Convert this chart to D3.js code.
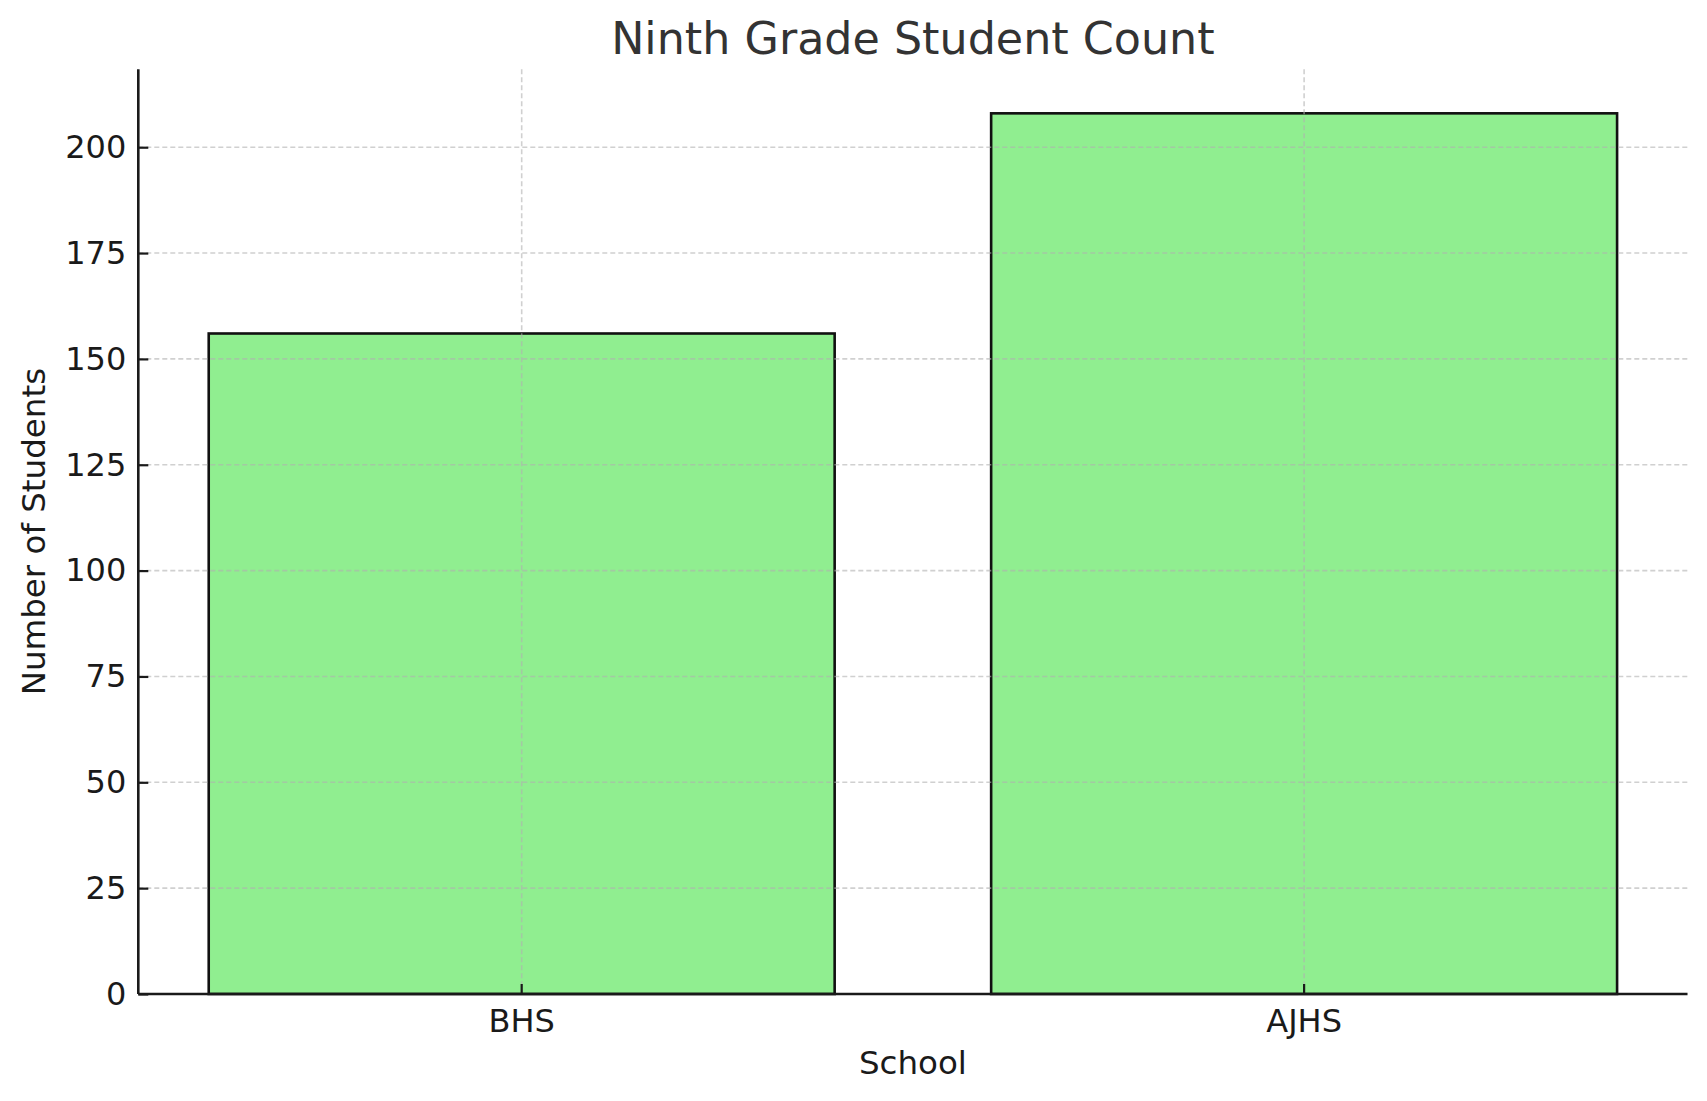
<!DOCTYPE html>
<html>
<head>
<meta charset="utf-8">
<script src="https://cdn.jsdelivr.net/npm/d3@7"></script>
<style>
  html, body { margin: 0; padding: 0; background: #fff; }
  svg { display: block; font-family: "DejaVu Sans", sans-serif; }
</style>
</head>
<body>
<div id="chart"></div>
<script>
const schools = ["BHS", "AJHS"];
const students = [156, 208];
const yTicks = [0, 25, 50, 75, 100, 125, 150, 175, 200];

const width = 1707;
const height = 1101;
const margin = { top: 69.3, right: 19.5, bottom: 107, left: 138.3 };

const svg = d3
  .select("#chart")
  .append("svg")
  .attr("width", width)
  .attr("height", height);

const x = d3
  .scaleBand()
  .domain(schools)
  .range([margin.left, width - margin.right])
  .paddingInner(0.2)
  .paddingOuter(0.09);

const y = d3
  .scaleLinear()
  .domain([0, d3.max(students) * 1.05])
  .range([height - margin.bottom, margin.top]);

// bars
svg
  .append("g")
  .selectAll("rect")
  .data(schools)
  .join("rect")
  .attr("x", (d) => x(d))
  .attr("width", x.bandwidth())
  .attr("y", (d, i) => y(students[i]))
  .attr("height", (d, i) => y(0) - y(students[i]))
  .attr("fill", "#90ee90")
  .attr("stroke", "#111")
  .attr("stroke-width", 2.6);

// grid (drawn above the bars, like the original)
const grid = svg
  .append("g")
  .attr("stroke", "#b0b0b0")
  .attr("stroke-opacity", 0.6)
  .attr("stroke-width", 1.6)
  .attr("stroke-dasharray", "5,3");

grid
  .selectAll("line.h")
  .data(yTicks)
  .join("line")
  .attr("class", "h")
  .attr("x1", margin.left)
  .attr("x2", width - margin.right)
  .attr("y1", (d) => y(d))
  .attr("y2", (d) => y(d));

grid
  .selectAll("line.v")
  .data(schools)
  .join("line")
  .attr("class", "v")
  .attr("x1", (d) => x(d) + x.bandwidth() / 2)
  .attr("x2", (d) => x(d) + x.bandwidth() / 2)
  .attr("y1", margin.top)
  .attr("y2", height - margin.bottom);

// axes
const yAxis = svg
  .append("g")
  .attr("transform", `translate(${margin.left},0)`)
  .call(
    d3.axisLeft(y).tickValues(yTicks).tickSizeInner(-10).tickSizeOuter(0).tickPadding(12)
  );

const xAxis = svg
  .append("g")
  .attr("transform", `translate(0,${height - margin.bottom})`)
  .call(d3.axisBottom(x).tickSizeInner(-10).tickSizeOuter(0).tickPadding(13));

[xAxis, yAxis].forEach((g) => {
  g.select(".domain")
    .attr("stroke", "#1a1a1a")
    .attr("stroke-width", 2.6);
  g.selectAll(".tick line")
    .attr("stroke", "#1a1a1a")
    .attr("stroke-width", 2.2);
  g.selectAll(".tick text")
    .attr("fill", "#1a1a1a")
    .style("font-family", "DejaVu Sans, sans-serif")
    .style("font-size", "32px");
});

xAxis.selectAll(".tick text").attr("dy", "0.78em");

// the x domain should cover the full plot width
xAxis
  .select(".domain")
  .attr("d", `M${margin.left},0H${width - margin.right}`);
yAxis
  .select(".domain")
  .attr("d", `M0,${margin.top}V${height - margin.bottom}`);

// title and labels
svg
  .append("text")
  .attr("x", (margin.left + width - margin.right) / 2)
  .attr("y", 54)
  .attr("text-anchor", "middle")
  .attr("fill", "#333")
  .style("font-size", "44.4px")
  .text("Ninth Grade Student Count");

svg
  .append("text")
  .attr("x", (margin.left + width - margin.right) / 2)
  .attr("y", 1074)
  .attr("text-anchor", "middle")
  .attr("fill", "#1a1a1a")
  .style("font-size", "32.5px")
  .text("School");

svg
  .append("text")
  .attr("transform", `translate(45,${(margin.top + height - margin.bottom) / 2}) rotate(-90)`)
  .attr("text-anchor", "middle")
  .attr("fill", "#1a1a1a")
  .style("font-size", "32.5px")
  .text("Number of Students");
</script>
</body>
</html>
